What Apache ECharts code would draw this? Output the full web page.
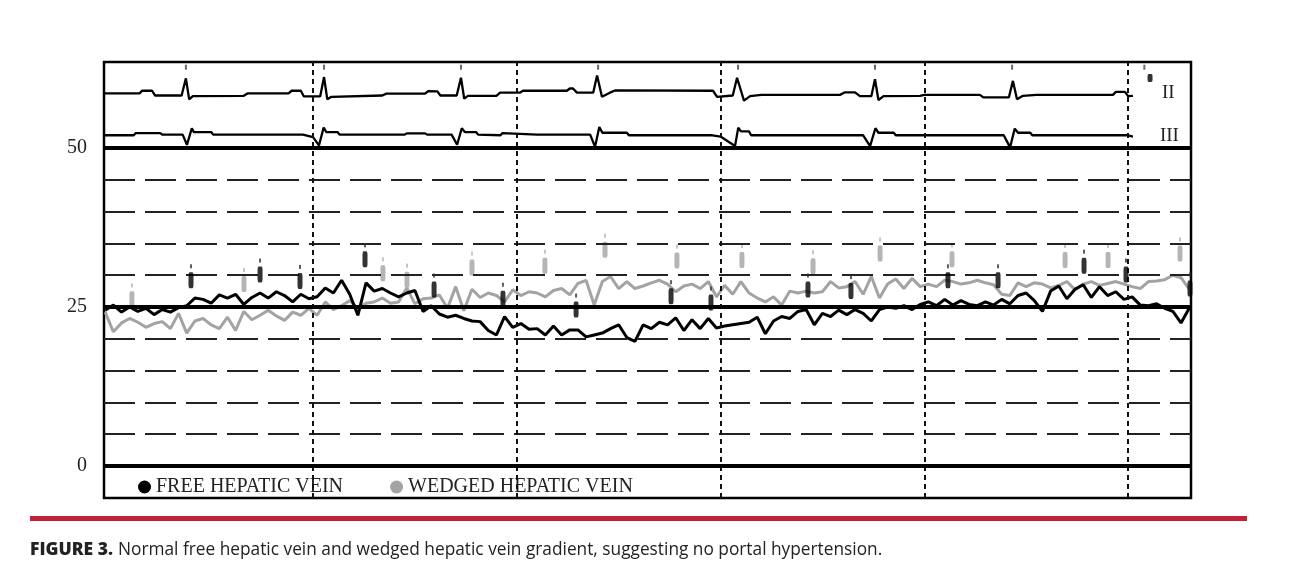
<!DOCTYPE html>
<html><head><meta charset="utf-8">
<script src="https://cdn.jsdelivr.net/npm/echarts@6/dist/echarts.min.js"></script>
<style>html,body{margin:0;padding:0;background:#fff}#c{width:1300px;height:577px}</style>
</head><body><div id="c"></div>
<script>
// ---------- DATA ----------
// pressure samples (mmHg), first sample at T0 s, every DT s
const T0 = -0.02, DT = 0.04;
const freeHepatic = [
24.5,25.3,24.2,25,24.3,24.8,23.8,24.6,24.2,24.9,
25.2,26.4,26.2,25.6,26.9,26.4,27,25.4,26.5,27.2,26.4,27.4,26.8,25.8,27,
26.3,26.6,28,27.2,29.2,27,23.7,28.8,27.5,
27.9,27.2,26.6,27.2,27.6,24.3,25.2,23.9,23.4,23.7,23.2,22.8,22.7,21.3,20.6,23.5,
21.8,22.4,21.5,21.6,20.6,22,20.6,21.4,21.4,20.3,20.6,20.9,21.6,22.2,20.2,19.6,22.2,21.6,
22.6,22.2,23.3,21.3,23,21.6,23.2,21.7,22,22.2,22.4,22.6,23.4,20.8,22.8,23.5,23.2,24.3,24.6,22.2,24,23.5,24.5,23.8,
24.6,24,22.8,24.6,25,24.8,25.2,24.6,25.4,25.8,25.2,26.2,25.3,26,25.4,
25.2,25.8,25.3,26.2,25.5,26.8,27.2,26,24.3,27.5,28.3,26.3,27.8,28.5,
26.5,28.2,26.8,27.4,26.2,26.6,25.3,25.2,25.5,24.8,24.3,22.5,24.8
];
const wedgedHepatic = [
24.2,21.1,22.5,23.2,22.6,21.8,22.4,22.7,21.6,24,
20.9,22.8,23.2,22.2,21.6,23.4,21.3,24.3,23,23.7,24.5,23.6,22.9,24.2,23.7,
24.8,23.7,25.8,24.6,25.2,26,24.8,25.6,25.8,
26.4,25.6,25.8,28,25.5,26.3,26.4,26.9,24.8,28.2,24.4,27.8,26.5,27.2,26.8,25.8,
27.7,26.8,27.4,27.2,26.6,27.6,27.9,26.9,28.7,29.2,25.3,29,29.8,27.9,29,27.9,28.3,28.8,
29.2,28.6,27.4,28.3,28.6,27.9,29,26.6,28.4,27,29,27.2,26.4,25.8,26.6,25.3,27.5,27.2,27.5,27.2,27.4,29,28,28.2,
29,27,29.8,26.4,28.6,29.4,27.9,29.5,
28.2,28.6,28.2,29.2,29,28.6,28.8,29.2,28.8,28.5,27,26.8,28.8,28.2,28.8,28.6,28,28.4,29,27.7,28.6,
29,28.4,28.7,29,28.6,28.2,27.9,29,29.1,29.3,30,29.6,27.8
];
// beat markers on the pressure traces: time (s) and level (mmHg)
const freeMarkT = [0.401,0.740,0.936,1.255,1.594,1.932,2.291,2.757,2.953,3.429,3.640,4.116,4.362,4.784,4.990,5.304];
const freeMarkV = [29.2,30.1,29.1,32.5,27.75,26.3,24.6,26.7,25.7,27.75,27.5,29.2,29.2,31.5,30.1,27.9];
const wedgedMarkT = [0.111,0.661,1.343,1.461,1.780,2.138,2.433,2.786,3.105,3.454,3.783,4.136,4.691,4.902,5.255];
const wedgedMarkV = [26.2,28.6,30.3,29.3,31.2,31.5,34,32.3,32.4,31.4,33.4,32.5,32.4,32.4,33.4];
// ECG leads: [time s, deflection] relative to each lead's baseline
const leadII = [
[-0.026,0.05],[0.15,0.05],[0.16,0.45],[0.21,0.45],[0.225,-0.3],[0.355,-0.3],[0.376,2.4],[0.392,-0.9],[0.41,-0.4],[0.66,-0.35],[0.68,0.05],[0.88,0.05],[0.895,0.45],[0.94,0.45],[0.955,-0.45],[1.035,-0.45],
[1.054,2.6],[1.07,-0.9],[1.09,-0.5],[1.34,-0.3],[1.36,0],[1.55,0],[1.565,0.4],[1.61,0.35],[1.625,-0.3],[1.705,-0.3],
[1.726,2.5],[1.742,-0.8],[1.76,-0.35],[1.9,-0.35],[1.918,0.15],[2.016,0.15],[2.03,0.45],[2.246,0.45],[2.26,0.8],[2.276,0.8],[2.295,0.15],[2.375,0.15],
[2.394,2.85],[2.418,-0.5],[2.457,0.15],[2.482,0.5],[2.963,0.45],[2.983,-0.5],[3.06,-0.3],
[3.081,2.5],[3.115,-1.1],[3.145,-0.4],[3.2,-0.2],[3.586,-0.2],[3.611,0.2],[3.66,0.2],[3.684,-0.4],[3.74,-0.4],
[3.758,2.25],[3.775,-1.0],[3.8,-0.4],[3.979,-0.35],[4.0,-0.2],[4.273,-0.2],[4.29,-0.6],[4.415,-0.6],
[4.435,2.0],[4.455,-0.9],[4.484,-0.35],[4.55,-0.2],[4.926,-0.2],[4.94,0.27],[4.985,0.27],[5.0,-0.4],[5.024,-0.35]
];
const leadIII = [
[-0.026,0],[0.12,0],[0.13,0.35],[0.25,0.35],[0.26,0.1],[0.36,0.1],[0.381,-1.5],[0.405,1.1],[0.415,0.5],[0.5,0.5],[0.51,0.1],[0.95,0.1],[1.0,-0.3],
[1.029,-1.6],[1.052,1.2],[1.065,0.5],[1.12,0.5],[1.13,0.1],[1.45,0.1],[1.46,0.3],[1.55,0.3],[1.56,0.1],[1.68,0.1],
[1.707,-1.5],[1.73,1.1],[1.745,0.5],[1.8,0.5],[1.81,0.1],[1.92,0],[1.93,0.35],[2.1,0.1],[2.36,0.1],
[2.384,-1.8],[2.405,1.3],[2.42,0.4],[2.54,0.4],[2.55,0],[2.96,0],[3.0,-0.2],
[3.071,-1.7],[3.087,1.2],[3.1,0.6],[3.14,0.6],[3.15,0],[3.7,0],
[3.734,-1.7],[3.76,1.1],[3.775,0.4],[3.85,0.4],[3.86,0],[4.39,0],
[4.421,-1.9],[4.444,1.05],[4.46,0.4],[4.52,0.4],[4.53,0],[5.0,0],[5.024,-0.2]
];
const ecgTickT = [0.376,1.054,1.726,2.399,3.086,3.758,4.431,5.08];
const ecgDot = [[5.108, 61.0]];
// scale / grid levels
const yTickLabels = [0, 25, 50];
const solidLevels = [0, 25, 50];
const dashedLevels = [5, 10, 15, 20, 30, 35, 40, 45];
const secondLines = [1, 2, 3, 4, 5];
const seriesNames = ['FREE HEPATIC VEIN', 'WEDGED HEPATIC VEIN'];
const caption = ['FIGURE 3.', 'Normal free hepatic vein and wedged hepatic vein gradient, suggesting no portal hypertension.'];

// ---------- CHART ----------
const BASE_II = 58.55, BASE_III = 52.0, ECG_TICK = 62.7;
const chart = echarts.init(document.getElementById('c'));
const serif = 'Liberation Serif';
const toXY = arr => arr.map((v, i) => [T0 + i * DT, v]);
const pair = (ts, vs) => ts.map((t, i) => [t, vs[i]]);

chart.setOption({
  animation: false,
  backgroundColor: '#fff',
  title: {
    left: 25, top: 536,
    text: '{b|' + caption[0] + '} {r|' + caption[1] + '}',
    textStyle: { fontWeight: 'normal', rich: {
      b: { fontFamily: 'Open Sans', fontWeight: 800, fontSize: 17.5, color: '#222' },
      r: { fontFamily: 'Open Sans', fontWeight: 'normal', fontSize: 17.3, color: '#222' }
    } }
  },
  graphic: [{ type: 'rect', shape: { x: 30, y: 516, width: 1217, height: 5 }, style: { fill: '#c4203a' } }],
  legend: {
    data: seriesNames, left: 133, top: 472, icon: 'circle', itemWidth: 13, itemHeight: 13, itemGap: 47,
    textStyle: { fontFamily: serif, fontSize: 20, color: '#222' }
  },
  grid: { left: 104, top: 62, width: 1087, height: 436, show: true, borderColor: '#000', borderWidth: 2.5, backgroundColor: 'transparent' },
  xAxis: { type: 'value', min: -0.026, max: 5.309, axisLine: { show: false }, axisTick: { show: false }, axisLabel: { show: false }, splitLine: { show: false } },
  yAxis: { type: 'value', min: -5.03, max: 63.52, axisLine: { show: false }, axisTick: { show: false }, splitLine: { show: false },
    axisLabel: { customValues: yTickLabels, margin: 17, fontFamily: serif, fontSize: 20, color: '#222', verticalAlign: 'middle', padding: [0, 0, 6, 0] } },
  series: [
    { type: 'line', name: '_grid', data: [], z: 1, silent: true,
      markLine: { silent: true, symbol: 'none', label: { show: false }, animation: false,
        data: [
          ...dashedLevels.map(v => ({ yAxis: v, lineStyle: { type: [31, 10], width: 2, color: '#222' } })),
          ...secondLines.map(v => ({ xAxis: v, lineStyle: { type: [5, 4], width: 2, color: '#111' } })),
          ...solidLevels.map(v => ({ yAxis: v, lineStyle: { type: 'solid', width: 4, color: '#000' } }))
        ] } },
    { type: 'line', name: seriesNames[1], data: toXY(wedgedHepatic), showSymbol: false, z: 3, color: '#a3a3a3',
      lineStyle: { width: 3, color: '#a3a3a3' } },
    { type: 'line', name: seriesNames[0], data: toXY(freeHepatic), showSymbol: false, z: 4, color: '#000',
      lineStyle: { width: 3, color: '#000' } },
    { type: 'scatter', name: '_wm', data: pair(wedgedMarkT, wedgedMarkV), symbol: 'roundRect', symbolSize: [5, 16], z: 3,
      itemStyle: { color: '#a3a3a3' } },
    { type: 'scatter', name: '_wm2', data: pair(wedgedMarkT, wedgedMarkV), symbol: 'rect', symbolSize: [2, 4], symbolOffset: [0, -14], z: 3,
      itemStyle: { color: '#b5b5b5' } },
    { type: 'scatter', name: '_fm', data: pair(freeMarkT, freeMarkV), symbol: 'roundRect', symbolSize: [5, 16], z: 5,
      itemStyle: { color: '#000' } },
    { type: 'scatter', name: '_fm2', data: pair(freeMarkT, freeMarkV), symbol: 'rect', symbolSize: [2, 4], symbolOffset: [0, -14], z: 5,
      itemStyle: { color: '#333' } },
    { type: 'line', name: '_II', data: leadII.map(p => [p[0], p[1] + BASE_II]), showSymbol: false, z: 4,
      lineStyle: { width: 2.3, color: '#000' },
      endLabel: { show: true, formatter: 'II', distance: 29, offset: [0, -3], fontFamily: serif, fontSize: 19, color: '#222' } },
    { type: 'line', name: '_III', data: leadIII.map(p => [p[0], p[1] + BASE_III]), showSymbol: false, z: 4,
      lineStyle: { width: 2.3, color: '#000' },
      endLabel: { show: true, formatter: 'III', distance: 27, offset: [0, -1], fontFamily: serif, fontSize: 19, color: '#222' } },
    { type: 'scatter', name: '_ticks', data: ecgTickT.map(t => [t, ECG_TICK]), symbol: 'rect', symbolSize: [2, 5], z: 4,
      itemStyle: { color: '#444' } },
    { type: 'scatter', name: '_dot', data: ecgDot, symbol: 'roundRect', symbolSize: [5, 8], z: 4, itemStyle: { color: '#000' } }
  ]
});
</script></body></html>
